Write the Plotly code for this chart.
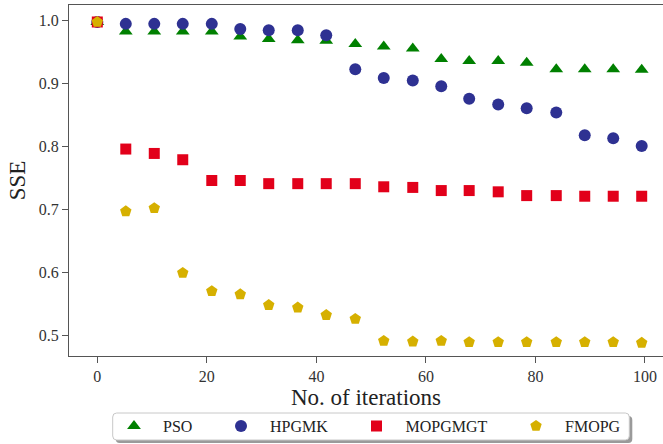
import plotly.graph_objects as go

# ---------------- data ----------------
iterations = [0, 5.2, 10.4, 15.6, 20.9, 26.1, 31.3, 36.6, 41.8, 47.1,
              52.3, 57.6, 62.8, 67.9, 73.2, 78.4, 83.8, 89.0, 94.2, 99.4]

pso = [0.998, 0.983, 0.983, 0.983, 0.983, 0.975, 0.971, 0.969, 0.968, 0.963,
       0.959, 0.956, 0.939, 0.936, 0.936, 0.933, 0.923, 0.923, 0.923, 0.922]
hpgmk = [0.998, 0.995, 0.995, 0.995, 0.995, 0.987, 0.985, 0.985, 0.977, 0.923,
         0.909, 0.905, 0.896, 0.876, 0.867, 0.861, 0.854, 0.818, 0.813, 0.801]
mopgmgt = [0.998, 0.796, 0.789, 0.779, 0.746, 0.746, 0.741, 0.741, 0.741, 0.741,
           0.736, 0.735, 0.730, 0.730, 0.728, 0.722, 0.722, 0.721, 0.721, 0.721]
fmopg = [0.998, 0.697, 0.702, 0.599, 0.570, 0.565, 0.548, 0.544, 0.532, 0.526,
         0.491, 0.490, 0.491, 0.489, 0.489, 0.489, 0.489, 0.489, 0.489, 0.488]

names = ["PSO", "HPGMK", "MOPGMGT", "FMOPG"]
series = [pso, hpgmk, mopgmgt, fmopg]
colors = ["#008000", "#2e3192", "#e2001a", "#d6b000"]
symbols = ["triangle-up", "circle", "square", "pentagon"]
sizes = [12, 12, 11, 12]

x_ticks = [0, 20, 40, 60, 80, 100]
y_ticks = [0.5, 0.6, 0.7, 0.8, 0.9, 1.0]

# ---------------- layout geometry ----------------
W, H = 663, 444
ML, MR, MT, MB = 69, 0, 5, 88
PW = W - ML - MR
PH = H - MT - MB

# legend marker centres (px) from the reference
legend_marker_px = [134, 241, 376.5, 536]
legend_center_py = 426
ITEMW = 48
SYM_CENTER = (ITEMW + 10) / 2.0

FONT = "Liberation Serif, Times New Roman, serif"

fig = go.Figure()
legend_ids = ["legend", "legend2", "legend3", "legend4"]
for name, ys, c, s, sz, lid in zip(names, series, colors, symbols, sizes, legend_ids):
    fig.add_trace(go.Scatter(
        x=iterations, y=ys, mode="markers", name=name,
        marker=dict(symbol=s, color=c, size=sz, line=dict(width=0)),
        legend=lid,
    ))

legend_layout = {}
for lid, mx in zip(legend_ids, legend_marker_px):
    legend_layout[lid] = dict(
        x=(mx - SYM_CENTER - ML) / PW, xanchor="left",
        y=(H - MB - legend_center_py) / PH, yanchor="middle",
        orientation="h", bgcolor="rgba(0,0,0,0)", borderwidth=0,
        itemwidth=ITEMW,
        font=dict(family=FONT, size=16, color="#222222"),
    )

# legend frame (rounded box + shadow) in pixel units anchored at plot bottom-left
def rounded(x0, y0, x1, y1, r):
    # y up positive
    return (f"M{x0 + r},{y0} L{x1 - r},{y0} Q{x1},{y0} {x1},{y0 - r} "
            f"L{x1},{y1 + r} Q{x1},{y1} {x1 - r},{y1} L{x0 + r},{y1} "
            f"Q{x0},{y1} {x0},{y1 + r} L{x0},{y0 - r} Q{x0},{y0} {x0 + r},{y0} Z")

bx0, bx1 = 112.7 - ML, 629.3 - ML
by0, by1 = -(413 - (H - MB)), -(440 - (H - MB))
shapes = [
    dict(type="path", xref="paper", yref="paper", xsizemode="pixel", ysizemode="pixel",
         xanchor=0, yanchor=0, path=rounded(bx0 + 3, by0 - 3, bx1 + 3, by1 - 3, 4),
         fillcolor="#9a9a9a", line=dict(width=0), layer="above"),
    dict(type="path", xref="paper", yref="paper", xsizemode="pixel", ysizemode="pixel",
         xanchor=0, yanchor=0, path=rounded(bx0, by0, bx1, by1, 4),
         fillcolor="white", line=dict(color="#c8c8c8", width=1), layer="above"),
]

axis_col = "#555555"
fig.update_layout(
    width=W, height=H,
    margin=dict(l=ML, r=MR, t=MT, b=MB, pad=0),
    paper_bgcolor="white", plot_bgcolor="white",
    showlegend=True,
    shapes=shapes,
    font=dict(family=FONT, color="#262626"),
    xaxis=dict(
        range=[-5.17, 103.29], tickvals=x_ticks, ticktext=[str(v) for v in x_ticks],
        showgrid=False, zeroline=False,
        showline=True, linecolor=axis_col, linewidth=1.3, mirror=True,
        ticks="outside", ticklen=6, tickwidth=1, tickcolor=axis_col,
        tickfont=dict(family=FONT, size=16, color="#333333"),
        title=dict(text="No. of iterations", standoff=3,
                   font=dict(family=FONT, size=23, color="#222222")),
    ),
    yaxis=dict(
        range=[0.467, 1.025], tickvals=y_ticks, ticktext=[f"{v:.1f}" for v in y_ticks],
        showgrid=False, zeroline=False,
        showline=True, linecolor=axis_col, linewidth=1.3, mirror=False,
        ticks="outside", ticklen=6, tickwidth=1, tickcolor=axis_col,
        tickfont=dict(family=FONT, size=16, color="#333333"),
        title=dict(text="SSE", standoff=6,
                   font=dict(family=FONT, size=23, color="#222222")),
    ),
    **legend_layout,
)

fig.write_html("out.html")
